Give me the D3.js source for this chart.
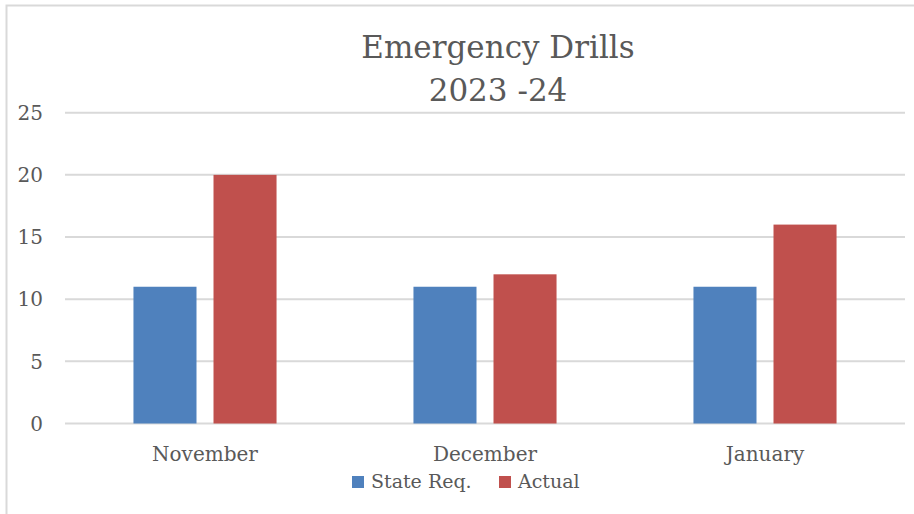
<!DOCTYPE html>
<html>
<head>
<meta charset="utf-8">
<script src="https://cdn.jsdelivr.net/npm/d3@7"></script>
<style>
  body { margin: 0; background: #fff; }
  svg text { font-family: "DejaVu Serif", "Liberation Serif", serif; fill: #595959; }
</style>
</head>
<body>
<svg id="chart" width="914" height="514"></svg>
<script>
var months = ["November", "December", "January"];
var seriesNames = ["State Req.", "Actual"];
var stateReq = [11, 11, 11];
var actual = [20, 12, 16];
var yTicks = [0, 5, 10, 15, 20, 25];
var colors = ["#4f81bd", "#c0504d"];

var svg = d3.select("#chart");

// chart border
svg.append("rect")
	.attr("x", 6.5).attr("y", 5.5)
	.attr("width", 930).attr("height", 530)
	.attr("fill", "none")
	.attr("stroke", "#d9d9d9")
	.attr("stroke-width", 2);

var x0 = d3.scaleBand().domain(months).range([65, 905])
	.paddingInner(0.489).paddingOuter(0.2445);
var x1 = d3.scaleBand().domain(seriesNames).range([0, x0.bandwidth()])
	.paddingInner(0.2125);
var y = d3.scaleLinear().domain([0, 25]).range([423.5, 112.7]);

// gridlines
svg.append("g")
	.selectAll("line")
	.data(yTicks)
	.enter().append("line")
	.attr("x1", 65).attr("x2", 905)
	.attr("y1", function(d) { return y(d); })
	.attr("y2", function(d) { return y(d); })
	.attr("stroke", "#d9d9d9")
	.attr("stroke-width", 2);

// y labels
svg.append("g")
	.selectAll("text")
	.data(yTicks)
	.enter().append("text")
	.attr("x", 43)
	.attr("y", function(d) { return y(d); })
	.attr("dy", "0.36em")
	.attr("text-anchor", "end")
	.attr("font-size", 20)
	.text(function(d) { return d; });

var data = months.map(function(m, i) {
	return { month: m, vals: [stateReq[i], actual[i]] };
});

var groups = svg.append("g")
	.selectAll("g")
	.data(data)
	.enter().append("g")
	.attr("transform", function(d) { return "translate(" + x0(d.month) + ",0)"; });

groups.selectAll("rect")
	.data(function(d) { return d.vals.map(function(v, i) { return { name: seriesNames[i], val: v, i: i }; }); })
	.enter().append("rect")
	.attr("x", function(d) { return x1(d.name); })
	.attr("y", function(d) { return y(d.val); })
	.attr("width", x1.bandwidth())
	.attr("height", function(d) { return y(0) - y(d.val); })
	.attr("fill", function(d) { return colors[d.i]; });

// category labels
svg.append("g")
	.selectAll("text")
	.data(months)
	.enter().append("text")
	.attr("x", function(d) { return x0(d) + x0.bandwidth() / 2; })
	.attr("y", 461)
	.attr("text-anchor", "middle")
	.attr("font-size", 20)
	.text(function(d) { return d; });

// title
var title = svg.append("text")
	.attr("text-anchor", "middle")
	.attr("font-size", 31);
title.append("tspan").attr("x", 498).attr("y", 58).text("Emergency Drills");
title.append("tspan").attr("x", 498).attr("y", 101).text("2023 -24");

// legend
var legendX = [352, 499];
var legend = svg.append("g")
	.selectAll("g")
	.data(seriesNames)
	.enter().append("g")
	.attr("transform", function(d, i) { return "translate(" + legendX[i] + ",0)"; });

legend.append("rect")
	.attr("x", 0).attr("y", 476)
	.attr("width", 12).attr("height", 12)
	.attr("fill", function(d, i) { return colors[i]; });

legend.append("text")
	.attr("x", 19).attr("y", 488)
	.attr("font-size", 19)
	.text(function(d) { return d; });
</script>
</body>
</html>
